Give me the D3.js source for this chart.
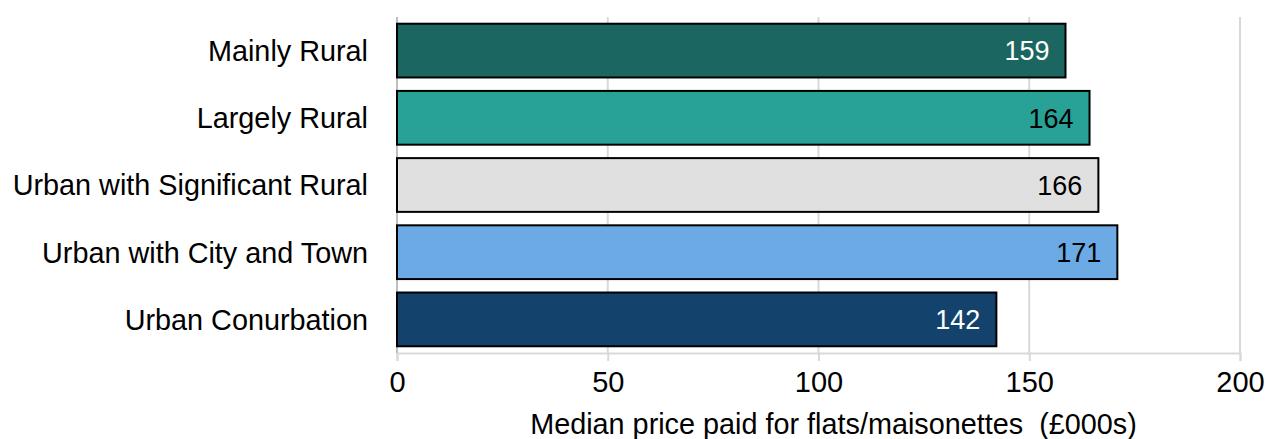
<!DOCTYPE html>
<html>
<head>
<meta charset="utf-8">
<script src="https://cdn.jsdelivr.net/npm/d3@7"></script>
<style>
  body { margin: 0; background: #fff; }
  text { font-family: "Liberation Sans", Arial, sans-serif; }
</style>
</head>
<body>
<div id="chart"></div>
<script>
// data (bar lengths estimated, labels show rounded values)
var categories = ["Mainly Rural", "Largely Rural", "Urban with Significant Rural", "Urban with City and Town", "Urban Conurbation"];
var values = [158.6, 164.3, 166.4, 170.9, 142.2];
var barColours = ["#1b6660", "#28a197", "#e0e0e0", "#6baae5", "#13436c"];
var labelColours = ["#fff", "#000", "#000", "#000", "#fff"];
var xTicks = [0, 50, 100, 150, 200];
var xTitle = "Median price paid for flats/maisonettes  (\u00a3000s)";

var width = 1266, height = 439;
var margin = {top: 17, right: 26, bottom: 86, left: 397};

var svg = d3.select("#chart").append("svg")
  .attr("width", width)
  .attr("height", height);

var x = d3.scaleLinear().domain([0, 200]).range([margin.left, width - margin.right]);
var y = d3.scaleBand().domain(categories).range([margin.top, height - margin.bottom]).paddingInner(0.2).paddingOuter(0.1);
var fmt = d3.format(".0f");

// gridlines
svg.append("g").selectAll("line")
  .data(xTicks.slice(1))
  .enter().append("line")
  .attr("x1", d => x(d)).attr("x2", d => x(d))
  .attr("y1", margin.top).attr("y2", height - margin.bottom)
  .attr("stroke", "#d9d9d9").attr("stroke-width", 2);

// x axis
var xAxis = svg.append("g")
  .attr("transform", "translate(0," + (height - margin.bottom) + ")")
  .call(d3.axisBottom(x).tickValues(xTicks).tickSize(8).tickPadding(10));
xAxis.select(".domain").attr("stroke", "#d9d9d9").attr("stroke-width", 2);
xAxis.selectAll(".tick line").attr("stroke", "#d9d9d9").attr("stroke-width", 2);
xAxis.selectAll(".tick text").attr("font-size", 29).attr("fill", "#000")
  .attr("font-family", "Liberation Sans, Arial, sans-serif");

// y axis line at 0
svg.append("line")
  .attr("x1", x(0)).attr("x2", x(0))
  .attr("y1", margin.top).attr("y2", height - margin.bottom)
  .attr("stroke", "#bfbfbf").attr("stroke-width", 2);

// bars
svg.append("g").selectAll("rect")
  .data(values)
  .enter().append("rect")
  .attr("x", x(0))
  .attr("y", (d, i) => y(categories[i]))
  .attr("width", d => x(d) - x(0))
  .attr("height", y.bandwidth())
  .attr("fill", (d, i) => barColours[i])
  .attr("stroke", "#000")
  .attr("stroke-width", 2);

// value labels
svg.append("g").selectAll("text")
  .data(values)
  .enter().append("text")
  .attr("x", d => x(d) - 16)
  .attr("y", (d, i) => y(categories[i]) + y.bandwidth() / 2)
  .attr("dy", "0.36em")
  .attr("text-anchor", "end")
  .attr("font-size", 27)
  .attr("fill", (d, i) => labelColours[i])
  .text(d => fmt(d));

// category labels
svg.append("g").selectAll("text")
  .data(categories)
  .enter().append("text")
  .attr("x", margin.left - 29)
  .attr("y", d => y(d) + y.bandwidth() / 2)
  .attr("dy", "0.36em")
  .attr("text-anchor", "end")
  .attr("font-size", 28.8)
  .attr("fill", "#000")
  .text(d => d);

// axis title
svg.append("text")
  .attr("x", x(100) + 15)
  .attr("y", height - 5)
  .attr("text-anchor", "middle")
  .attr("font-size", 28.8)
  .attr("fill", "#000")
  .attr("xml:space", "preserve")
  .style("white-space", "pre")
  .text(xTitle);
</script>
</body>
</html>
